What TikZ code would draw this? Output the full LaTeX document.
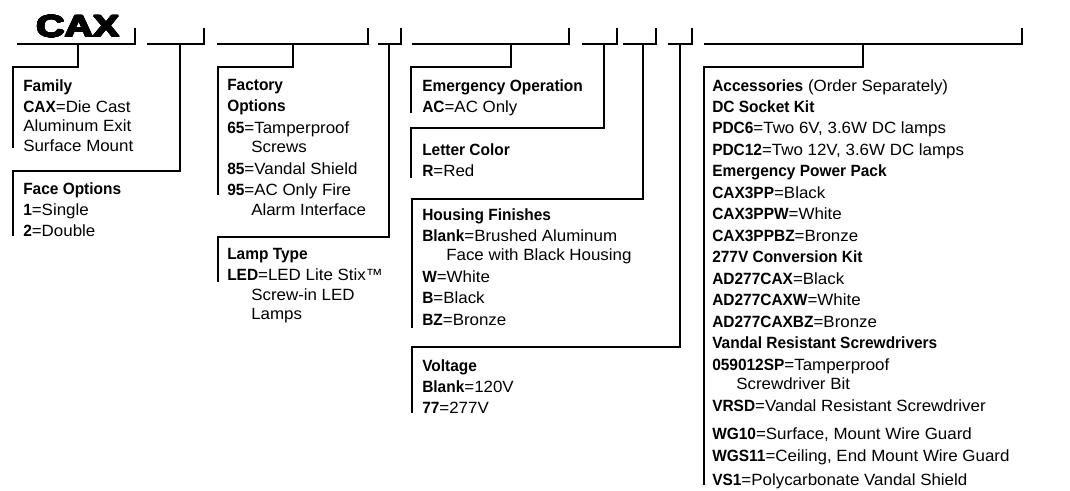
\documentclass[tikz,border=0pt]{standalone}
\usepackage{fontspec}
\usepackage{contour}
\setmainfont{Liberation Sans}[UprightFeatures={FakeStretch=1.04},BoldFeatures={FakeStretch=0.95}]
\newfontfamily\capfont{Liberation Sans}[FakeStretch=1.28]
\contourlength{0.7pt}
\contournumber{24}
\newcommand{\optitem}[2]{\textbf{#1}=#2}
\newcommand{\wrapind}{\hspace*{18pt}}

\begin{document}
\begin{tikzpicture}[x=0.75pt, y=-0.75pt,
  every node/.style={font={\fontsize{12.2}{16.1}\selectfont}},
  entry/.style={anchor=north west, inner sep=0pt, align=left},
  bar/.style={line width=2pt},
  lead/.style={line width=2pt}]
\useasboundingbox (0,0) rectangle (1070,490);

% catalogue number
\node[anchor=base west, inner sep=0pt, font={\capfont\bfseries\fontsize{23}{24}\selectfont}] (cax) at (36,37) {\contour{black}{CAX}};

% blanks of the number
\foreach \a/\b in {17/135, 147/204, 217/368, 378/401, 412/569, 582/617, 623/656, 668/692, 704/1022}
  \draw[bar] (\a,44) -- (\b,44) -- (\b,28);

% drop points on the blanks
\coordinate (d1) at (78,44);
\coordinate (d2) at (180,44);
\coordinate (d3) at (293,44);
\coordinate (d4) at (389,44);
\coordinate (d5) at (511,44);
\coordinate (d6) at (604,44);
\coordinate (d7) at (643,44);
\coordinate (d8) at (680,44);
\coordinate (d9) at (863,44);

% corners and ends of the boxes
\coordinate (fam-nw) at (13,67);   \coordinate (fam-sw) at (13,148);
\coordinate (face-nw) at (13,171); \coordinate (face-sw) at (13,236);
\coordinate (fac-nw) at (218,67);  \coordinate (fac-sw) at (218,195);
\coordinate (lamp-nw) at (218,237); \coordinate (lamp-sw) at (218,282);
\coordinate (emg-nw) at (411,67);  \coordinate (emg-sw) at (411,113);
\coordinate (let-nw) at (411,128); \coordinate (let-sw) at (411,178);
\coordinate (hous-nw) at (412,199); \coordinate (hous-sw) at (412,328);
\coordinate (volt-nw) at (412,347); \coordinate (volt-sw) at (412,413);
\coordinate (acc-nw) at (704,67);  \coordinate (acc-sw) at (704,485);

% text of the boxes
\node[entry] (fam) at (23,79) {\textbf{Family}\\
  \optitem{CAX}{Die Cast}\\[-1.5pt]
  Aluminum Exit\\[-1.5pt]
  Surface Mount};
\node[entry] (face) at (23,182) {\textbf{Face Options}\\
  \optitem{1}{Single}\\
  \optitem{2}{Double}};
\node[entry] (fac) at (227,79) {\textbf{Factory}\\
  \textbf{Options}\\
  \optitem{65}{Tamperproof}\\[-1.5pt]
  \wrapind Screws\\
  \optitem{85}{Vandal Shield}\\
  \optitem{95}{AC Only Fire}\\[-1.5pt]
  \wrapind Alarm Interface};
\node[entry] (lamp) at (227,248) {\textbf{Lamp Type}\\
  \optitem{LED}{LED Lite Stix™}\\[-1.5pt]
  \wrapind Screw-in LED\\[-1.5pt]
  \wrapind Lamps};
\node[entry] (emg) at (422,79) {\textbf{Emergency Operation}\\
  \optitem{AC}{AC Only}};
\node[entry] (let) at (422,143) {\textbf{Letter Color}\\
  \optitem{R}{Red}};
\node[entry] (hous) at (422,208) {\textbf{Housing Finishes}\\
  \optitem{Blank}{Brushed Aluminum}\\[-1.5pt]
  \wrapind Face with Black Housing\\
  \optitem{W}{White}\\
  \optitem{B}{Black}\\
  \optitem{BZ}{Bronze}};
\node[entry] (volt) at (422,359) {\textbf{Voltage}\\
  \optitem{Blank}{120V}\\
  \optitem{77}{277V}};
\node[entry] (acc) at (712,79) {\textbf{Accessories} (Order Separately)\\
  \textbf{DC Socket Kit}\\
  \optitem{PDC6}{Two 6V, 3.6W DC lamps}\\
  \optitem{PDC12}{Two 12V, 3.6W DC lamps}\\
  \textbf{Emergency Power Pack}\\
  \optitem{CAX3PP}{Black}\\
  \optitem{CAX3PPW}{White}\\
  \optitem{CAX3PPBZ}{Bronze}\\
  \textbf{277V Conversion Kit}\\
  \optitem{AD277CAX}{Black}\\
  \optitem{AD277CAXW}{White}\\
  \optitem{AD277CAXBZ}{Bronze}\\
  \textbf{Vandal Resistant Screwdrivers}\\
  \optitem{059012SP}{Tamperproof}\\[-1.5pt]
  \wrapind Screwdriver Bit\\
  \optitem{VRSD}{Vandal Resistant Screwdriver}\\[5.6pt]
  \optitem{WG10}{Surface, Mount Wire Guard}\\
  \optitem{WGS11}{Ceiling, End Mount Wire Guard}\\[1.9pt]
  \optitem{VS1}{Polycarbonate Vandal Shield}};

% leaders from the blanks to the boxes
\draw[lead] (d1) |- (fam-nw) -- (fam-sw);
\draw[lead] (d2) |- (face-nw) -- (face-sw);
\draw[lead] (d3) |- (fac-nw) -- (fac-sw);
\draw[lead] (d4) |- (lamp-nw) -- (lamp-sw);
\draw[lead] (d5) |- (emg-nw) -- (emg-sw);
\draw[lead] (d6) |- (let-nw) -- (let-sw);
\draw[lead] (d7) |- (hous-nw) -- (hous-sw);
\draw[lead] (d8) |- (volt-nw) -- (volt-sw);
\draw[lead] (d9) |- (acc-nw) -- (acc-sw);
\end{tikzpicture}
\end{document}
